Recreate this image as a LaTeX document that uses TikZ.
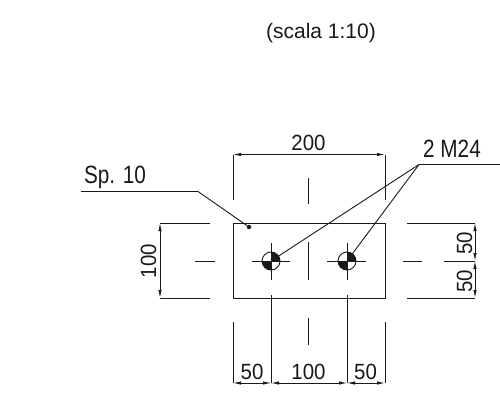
\documentclass[tikz,border=0pt]{standalone}
\usepackage{fontspec}
\usepackage{graphicx}
\setmainfont{Liberation Sans}
\usetikzlibrary{arrows.meta}
\definecolor{ink}{gray}{0.1}
\newcommand{\bigtxt}[1]{\scalebox{0.83}[1]{\fontsize{25}{25}\selectfont #1}}
\newcommand{\dimtx}[1]{\scalebox{0.93}[1]{\fontsize{22}{22}\selectfont #1}}
\tikzset{
  x=1pt,y=-1pt,
  thin line/.style={draw=ink,line width=0.9pt},
  plate/.style={draw=ink,line width=0.95pt},
  dim/.style={thin line,{Latex[length=8pt,width=3.4pt]}-{Latex[length=8pt,width=3.4pt]}},
  lbl/.style={inner sep=0pt,text=ink,font=\fontsize{21}{21}\selectfont},
  txt/.style={inner sep=0pt,text=ink},
}
\newcommand{\boltmark}[1]{%
  \fill[ink] (#1) -- ++(-9,0) arc[start angle=180,end angle=90,radius=9] -- cycle;
  \fill[ink] (#1) -- ++(9,0) arc[start angle=0,end angle=-90,radius=9] -- cycle;
  \draw[thin line] (#1) circle[radius=9];
}
\begin{document}
\begin{tikzpicture}
\useasboundingbox (0,0) rectangle (500,404);
% anchors
\coordinate (b1) at (271,261);
\coordinate (b2) at (347,261);
\node[plate,draw,minimum width=152pt,minimum height=75pt,inner sep=0pt] (plate) at (309,260.5) {};
% title
\node[lbl] (title) at (321,33) {(scala 1:10)};
% top dim
\coordinate (t1a) at (233,154.5); \coordinate (t1b) at (233,200);
\coordinate (t2a) at (385,154.5); \coordinate (t2b) at (385,200);
\draw[thin line] (t1a) -- (t1b);
\draw[thin line] (t2a) -- (t2b);
\draw[dim] (t1a) -- (t2a);
\node[txt] (d200) at (308.5,143) {\dimtx{200}};
% left dim
\coordinate (l1) at (160,223); \coordinate (l2) at (160,298);
\coordinate (l1e) at (210,223); \coordinate (l2e) at (210,298);
\draw[thin line] (l1) -- (l1e);
\draw[thin line] (l2) -- (l2e);
\draw[dim] (l1) -- (l2);
\node[txt,rotate=90] (d100l) at (148.5,261) {\dimtx{100}};
% right dim
\coordinate (r1) at (475,223); \coordinate (r2) at (475,261); \coordinate (r3) at (475,298);
\coordinate (r1e) at (407,223); \coordinate (r3e) at (407,298);
\draw[thin line] (r1e) -- (r1);
\draw[thin line] (r3e) -- (r3);
\draw[dim] (r1) -- (r2);
\draw[dim] (r2) -- (r3);
\node[txt,rotate=90] (d50a) at (464.5,243) {\dimtx{50}};
\node[txt,rotate=90] (d50b) at (464.5,281) {\dimtx{50}};
% bottom dim
\coordinate (q1) at (233,383); \coordinate (q2) at (271,383); \coordinate (q3) at (347,383); \coordinate (q4) at (385,383);
\coordinate (q1t) at (233,322); \coordinate (q2t) at (271,295); \coordinate (q3t) at (347,295); \coordinate (q4t) at (385,322);
\draw[thin line] (q1t) -- (q1);
\draw[thin line] (q2t) -- (q2);
\draw[thin line] (q3t) -- (q3);
\draw[thin line] (q4t) -- (q4);
\draw[dim] (q1) -- (q2);
\draw[dim] (q2) -- (q3);
\draw[dim] (q3) -- (q4);
\node[txt] (d50c) at (252,371.5) {\dimtx{50}};
\node[txt] (d100b) at (308.5,371.5) {\dimtx{100}};
\node[txt] (d50d) at (365.5,371.5) {\dimtx{50}};
% centre lines
\draw[thin line] (308.5,178) -- (308.5,204);
\draw[thin line] (308.5,242) -- (308.5,280);
\draw[thin line] (308.5,318) -- (308.5,345);
\draw[thin line] (195,261) -- (215,261);
\draw[thin line] (403,261) -- (422,261);
\draw[thin line] (444,261) -- (r2);
% bolts
\draw[thin line] (252,261) -- (290,261);
\draw[thin line] (271,243) -- (271,280);
\draw[thin line] (327,261) -- (366,261);
\draw[thin line] (347,243) -- (347,280);
\boltmark{b1}
\boltmark{b2}
% leaders
\coordinate (sA) at (81,191.5); \coordinate (sB) at (198,191.5);
\node[circle,fill=ink,minimum size=4.5pt,inner sep=0pt] (dot) at (249,227) {};
\draw[thin line] (sA) -- (sB) -- (dot);
\node[txt] (sp) at (115,177) {\bigtxt{Sp. 10}};
\coordinate (mA) at (500,164.5); \coordinate (mB) at (419,164.5);
\draw[thin line] (mA) -- (mB) -- (b1);
\draw[thin line] (mB) -- (b2);
\node[txt] (m24) at (452,149) {\bigtxt{2 M24}};
\end{tikzpicture}
\end{document}
